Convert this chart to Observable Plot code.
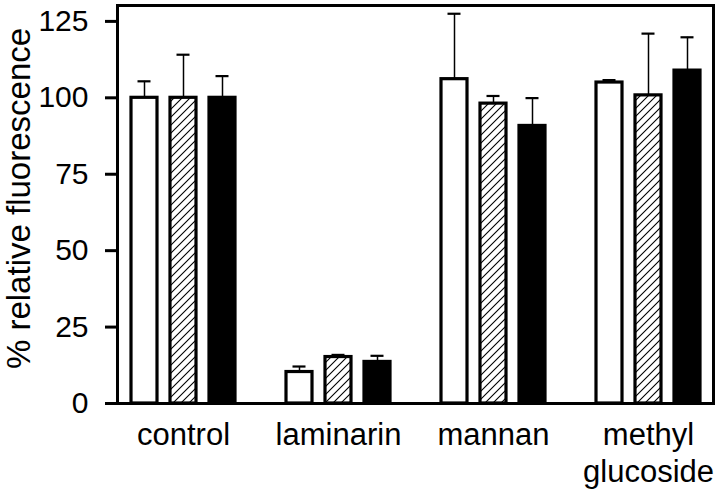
<!DOCTYPE html>
<html>
<head>
<meta charset="utf-8">
<script src="https://cdn.jsdelivr.net/npm/d3@7"></script>
<script src="https://cdn.jsdelivr.net/npm/@observablehq/plot@0.6"></script>
<style>
  html, body { margin: 0; padding: 0; background: #fff; }
  #chart { width: 720px; height: 495px; }
</style>
</head>
<body>
<div id="chart"></div>
<script>
// ---- data ----
const groups = ["control", "laminarin", "mannan", "methyl glucoside"];
const groupTickLabels = ["control", "laminarin", "mannan", "methyl\nglucoside"];
const seriesNames = ["open", "hatched", "filled"];
const openValues    = [100, 10.3, 106.1, 105.0];
const openErrors    = [5.4, 1.8, 21.4, 0.8];
const hatchedValues = [100, 15.2, 98.1, 100.8];
const hatchedErrors = [14.1, 0.7, 2.5, 20.2];
const filledValues  = [100, 13.6, 90.8, 108.9];
const filledErrors  = [7.1, 2.0, 9.1, 10.9];
const yTicks = [0, 25, 50, 75, 100, 125];
const yLabel = "% relative fluorescence";

const seriesValues = [openValues, hatchedValues, filledValues];
const seriesErrors = [openErrors, hatchedErrors, filledErrors];
const seriesFill = ["white", "url(#hatch)", "black"];
const seriesShift = [-39, 0, 39];

const tables = seriesNames.map((s, si) =>
  groups.map((g, gi) => ({group: g, series: s, value: seriesValues[si][gi], err: seriesErrors[si][gi]}))
);

const marks = [];
tables.forEach((rows, si) => {
  marks.push(Plot.ruleX(rows, {x: "group", y1: "value", y2: d => d.value + d.err, dx: seriesShift[si], stroke: "black", strokeWidth: 1.5}));
});
tables.forEach((rows, si) => {
  marks.push(Plot.barY(rows, {x: "group", y: "value", dx: seriesShift[si], insetLeft: 49, insetRight: 49, fill: seriesFill[si], stroke: "black", strokeWidth: 3.2}));
  marks.push(Plot.tickY(rows, {x: "group", y: d => d.value + d.err, dx: seriesShift[si], insetLeft: 55.5, insetRight: 55.5, stroke: "black", strokeWidth: 2.2}));
});

const svg = Plot.plot({
  width: 720,
  height: 495,
  marginLeft: 117,
  marginRight: 7,
  marginTop: 5,
  marginBottom: 92,
  style: {fontFamily: "'Liberation Sans', Arial, Helvetica, sans-serif", fontSize: "30px", color: "black", background: "white"},
  x: {domain: groups, paddingInner: 0.2, paddingOuter: 0.0225},
  y: {domain: [0, 130.2]},
  marks: [
    ...marks,
    Plot.frame({stroke: "black", strokeWidth: 3}),
    Plot.axisY({ticks: yTicks, tickSize: 12, tickPadding: 17, strokeWidth: 3, fontSize: 30, label: null}),
    Plot.text([yLabel], {text: d => d, frameAnchor: "left", dx: -111, dy: -6, rotate: -90,
      textAnchor: "middle", lineAnchor: "top", fontSize: 33, fill: "black"}),
    Plot.axisX({tickSize: 0, tickPadding: 15, fontSize: 31, lineHeight: 1.19, label: null,
      tickFormat: d => groupTickLabels[groups.indexOf(d)]})
  ]
});

// hatch pattern definition
const ns = "http://www.w3.org/2000/svg";
const defs = document.createElementNS(ns, "defs");
defs.innerHTML = '<pattern id="hatch" patternUnits="userSpaceOnUse" width="8" height="8">' +
  '<rect width="8" height="8" fill="white"/>' +
  '<path d="M-1,1 L1,-1 M0,8 L8,0 M7,9 L9,7" stroke="black" stroke-width="1.1"/></pattern>';
svg.insertBefore(defs, svg.firstChild);

document.getElementById("chart").appendChild(svg);
</script>
</body>
</html>
